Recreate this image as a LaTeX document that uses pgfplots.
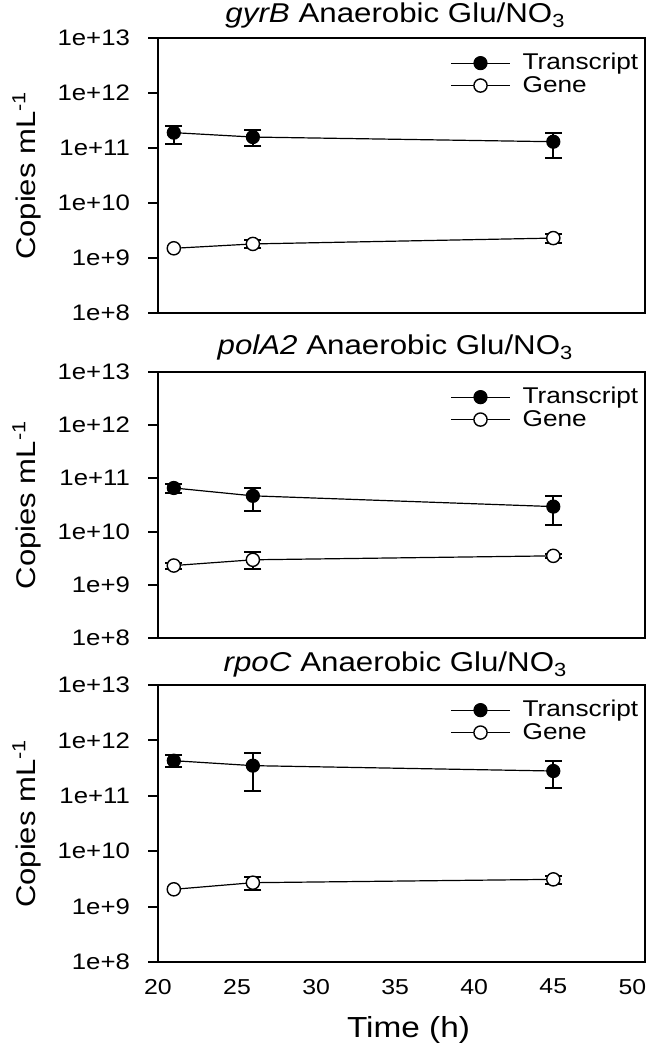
\documentclass[border=0pt]{standalone}
\usepackage{fontspec}
\setmainfont[FakeStretch=1.15]{Liberation Sans}
\usepackage{pgfplots}
\pgfplotsset{compat=1.18}
\pgfplotsset{
  every axis/.append style={
    scale only axis, width=243.5pt,
    ymin=1e8, ymax=1e13,
    xmin=20, xmax=50.8,
    ytick={1e8,1e9,1e10,1e11,1e12,1e13},
    yticklabels={1e+8,1e+9,1e+10,1e+11,1e+12,1e+13},
    yminorticks=false, xminorticks=false,
    ytick pos=left, tick align=outside,
    major tick length=5pt,
    axis line style={line width=1pt},
    yticklabel style={font=\fontsize{11.2}{13}\selectfont, xshift=-5.5pt},
    xticklabel style={font=\fontsize{10.8}{13}\selectfont},
    /pgf/number format/assume math mode=true,
    title style={font=\fontsize{13.6}{15}\selectfont, at={(0.5,1)}, anchor=base, xshift=-3pt},
    ylabel style={font=\fontsize{13.5}{15}\selectfont, at={(-0.269,0.5)}, anchor=center},
    legend style={draw=none, fill=none, inner sep=0pt, at={(0.5996,1)}, anchor=north west, yshift=-7.5pt,
      font=\fontsize{11.4}{13}\selectfont, row sep=1.6pt, column sep=6pt, nodes={inner sep=0pt}},
    legend cell align=left,
    legend image code/.code={\draw[mark repeat=2, mark phase=2] plot coordinates {(0pt,0pt) (14.75pt,0pt) (29.5pt,0pt)};},
  },
  every tick/.append style={line width=1pt, black},
}
\newcommand\ebar[3]{\addplot[forget plot, black, line width=1pt, mark=-, mark size=4.2pt, mark options={line width=1pt}] coordinates {(#1,#2) (#1,#3)};}
\begin{document}
\begin{tikzpicture}
\useasboundingbox (0pt,0pt) rectangle (325.5pt,523.5pt);
% Panel 1
\begin{semilogyaxis}[height=137.5pt, at={(79pt,367pt)}, anchor=south west,
  xtick=\empty, ylabel={Copies mL\textsuperscript{-1}},
  title style={yshift=1.5pt},
  title={\textit{gyrB} Anaerobic Glu/NO\textsubscript{3}}]
% error bars (lower, upper)
\ebar{21}{1.17e11}{2.5e11}
\ebar{26}{1.1e11}{2.1e11}
\ebar{45}{6.6e10}{1.9e11}
\ebar{26}{1.5e9}{2.1e9}
\ebar{45}{1.85e9}{2.75e9}
\addplot[black, line width=0.6pt, mark=*, mark size=3.3pt, mark options={fill=black, line width=0.5pt}]
  table[x=x, y=y] {
x y
21 1.9e11
26 1.58e11
45 1.3e11
};
\addlegendentry{Transcript}
\addplot[black, line width=0.6pt, mark=*, mark size=3.3pt, mark options={fill=white, line width=0.7pt}]
  table[x=x, y=y] {
x y
21 1.5e9
26 1.8e9
45 2.3e9
};
\addlegendentry{Gene}
\end{semilogyaxis}
% Panel 2
\begin{semilogyaxis}[height=133pt, at={(79pt,204.5pt)}, anchor=south west,
  xtick=\empty, ylabel={Copies mL\textsuperscript{-1}},
  title style={yshift=2.5pt},
  title={\textit{polA2} Anaerobic Glu/NO\textsubscript{3}}]
\ebar{21}{5.4e10}{7.9e10}
\ebar{26}{2.45e10}{6.6e10}
\ebar{45}{1.35e10}{4.7e10}
\ebar{21}{1.95e9}{2.6e9}
\ebar{26}{2.0e9}{4.2e9}
\ebar{45}{3.2e9}{3.8e9}
\addplot[black, line width=0.6pt, mark=*, mark size=3.3pt, mark options={fill=black, line width=0.5pt}]
  table[x=x, y=y] {
x y
21 6.6e10
26 4.7e10
45 2.95e10
};
\addlegendentry{Transcript}
\addplot[black, line width=0.6pt, mark=*, mark size=3.3pt, mark options={fill=white, line width=0.7pt}]
  table[x=x, y=y] {
x y
21 2.3e9
26 2.95e9
45 3.5e9
};
\addlegendentry{Gene}
\end{semilogyaxis}
% Panel 3
\begin{semilogyaxis}[height=138.5pt, at={(79pt,42.5pt)}, anchor=south west,
  xtick={20,25,30,35,40,45,50}, xtick style={draw=none},
  ylabel={Copies mL\textsuperscript{-1}},
  xlabel={Time (h)},
  xlabel style={font=\fontsize{14.5}{16}\selectfont, at={(0.5,0)}, anchor=base, yshift=-38pt, xshift=3.5pt},
  title style={yshift=0.5pt},
  title={\textit{rpoC} Anaerobic Glu/NO\textsubscript{3}}]
\ebar{21}{3.3e11}{5.5e11}
\ebar{26}{1.2e11}{5.8e11}
\ebar{45}{1.4e11}{4.3e11}
\ebar{26}{2.0e9}{3.4e9}
\ebar{45}{2.6e9}{3.55e9}
\addplot[black, line width=0.6pt, mark=*, mark size=3.3pt, mark options={fill=black, line width=0.5pt}]
  table[x=x, y=y] {
x y
21 4.3e11
26 3.5e11
45 2.8e11
};
\addlegendentry{Transcript}
\addplot[black, line width=0.6pt, mark=*, mark size=3.3pt, mark options={fill=white, line width=0.7pt}]
  table[x=x, y=y] {
x y
21 2.05e9
26 2.7e9
45 3.1e9
};
\addlegendentry{Gene}
\end{semilogyaxis}
\end{tikzpicture}
\end{document}
